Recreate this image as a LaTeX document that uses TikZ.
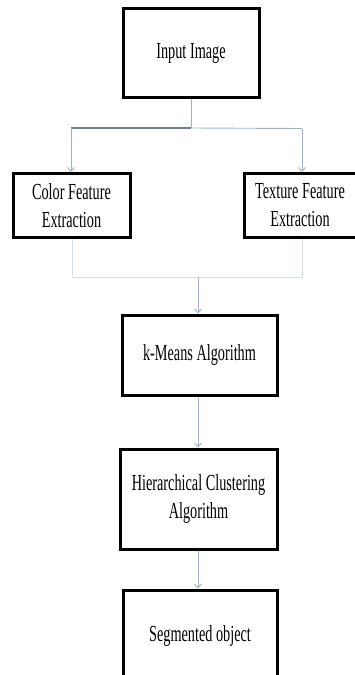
\documentclass[tikz,border=0pt]{standalone}
\usepackage{fontspec}
\newfontfamily\tfont[FakeStretch=0.62]{Liberation Serif}
\usetikzlibrary{arrows.meta}
\definecolor{arrowc}{HTML}{9DB2C9}
\definecolor{darkc}{HTML}{6E8496}
\definecolor{palec}{HTML}{D3E0EC}
\begin{document}
\begin{tikzpicture}[x=1pt,y=-1pt,
  box/.style={draw=black, line width=3pt, fill=white, rectangle, inner sep=0pt,
    align=center, font=\tfont\fontsize{23}{28}\selectfont},
  conn/.style={draw=arrowc, line width=0.9pt},
  arr/.style={conn, -{Straight Barb[length=4pt,width=7pt]}},
  pale/.style={draw=palec, line width=1pt}]
\useasboundingbox (0,0) rectangle (354,675);
\node[box, minimum width=136, minimum height=89] (in) at (191,53) {Input Image};
\node[box, minimum width=117, minimum height=64] (col) at (71.5,205.5) {Color Feature\\Extraction};
\node[box, minimum width=112, minimum height=64] (tex) at (300,205.5) {Texture Feature\\Extraction};
\node[box, minimum width=155, minimum height=80] (km) at (199.5,355) {k-Means Algorithm};
\node[box, minimum width=157, minimum height=100] (hc) at (198.5,499) {Hierarchical Clustering\\Algorithm};
\node[box, minimum width=154, minimum height=92] (seg) at (200,636) {Segmented object};
\coordinate (j1) at (191,128);
\coordinate (jl) at (71,128);
\coordinate (jr) at (302,128.5);
\coordinate (bl) at (72,277);
\coordinate (br) at (302,277);
\coordinate (bm) at (198,277);
\draw[conn] (in.south) -- (j1);
\draw[draw=darkc, line width=2pt] (jl) -- (j1);
\draw[conn] (j1) -- (jr);
\draw[arr] (jl) -- (jl |- col.north);
\draw[arr] (jr) -- (jr |- tex.north);
\draw[pale] (col.south -| bl) -- (bl) -- (br) -- (br |- tex.south);
\draw[arr] (bm) -- (bm |- km.north);
\draw[arr] (km.south -| bm) -- (hc.north -| bm);
\draw[arr] (hc.south -| bm) -- (seg.north -| bm);
\end{tikzpicture}
\end{document}
